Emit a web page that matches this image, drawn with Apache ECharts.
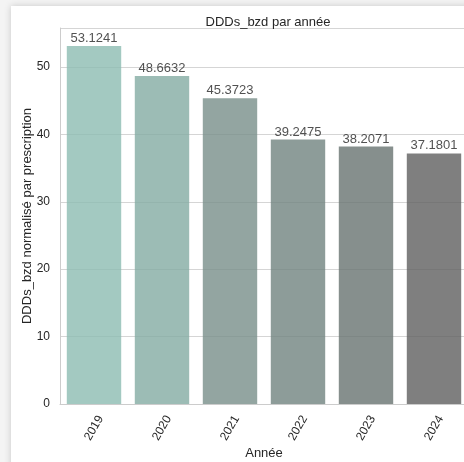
<!DOCTYPE html>
<html>
<head>
<meta charset="utf-8">
<script src="https://cdn.jsdelivr.net/npm/echarts@6/dist/echarts.min.js"></script>
<style>
    html, body { margin: 0; padding: 0; background: #f4f4f4; overflow: hidden; }
    #card { position: absolute; left: 11px; top: 6px; width: 520px; height: 520px; background: #fff;
        box-shadow: 0 0 7px rgba(0, 0, 0, 0.18); }
    #chart { position: absolute; left: 0; top: 0; width: 464px; height: 462px; }
</style>
</head>
<body>
<div id="card"></div>
<div id="chart"></div>
<script>
    const years = ['2019', '2020', '2021', '2022', '2023', '2024'];
    const values = [53.1241, 48.6632, 45.3723, 39.2475, 38.2071, 37.1801];
    const barColors = ['#8cbcb2', '#83aba3', '#788f8a', '#70837f', '#687370', '#5f5f5f'];
    const yTicks = [0, 10, 20, 30, 40, 50];

    const chart = echarts.init(document.getElementById('chart'));
    chart.setOption({
        animation: false,
        textStyle: { fontFamily: 'Liberation Sans, Arial, sans-serif' },
        title: {
            text: 'DDDs_bzd par année',
            left: 263,
            top: 11,
            textAlign: 'center',
            textStyle: { fontSize: 13, fontWeight: 'normal', color: '#262626' }
        },
        grid: { left: 60, top: 28, width: 408, height: 376, containLabel: false, outerBoundsMode: 'none' },
        xAxis: {
            type: 'category',
            data: years,
            name: 'Année',
            nameLocation: 'middle',
            nameGap: 43,
            nameMoveOverlap: false,
            nameTextStyle: { fontSize: 13, color: '#262626' },
            axisLine: { lineStyle: { color: '#cccccc' } },
            axisTick: { show: false },
            axisLabel: {
                rotate: 60, fontSize: 12, color: '#262626', margin: 24,
                align: 'center', verticalAlign: 'middle'
            }
        },
        yAxis: {
            type: 'value',
            min: 0,
            max: 53.1241 * 1.05,
            interval: 10,
            name: 'DDDs_bzd normalisé par prescription',
            nameLocation: 'middle',
            nameGap: 26,
            nameMoveOverlap: false,
            nameTextStyle: { fontSize: 13, color: '#262626' },
            axisLine: { show: true, lineStyle: { color: '#cccccc' } },
            axisTick: { show: false },
            axisLabel: {
                fontSize: 12, color: '#262626', margin: 10,
                formatter: v => (yTicks.includes(v) ? String(v) : '')
            },
            splitLine: { lineStyle: { color: '#d5d5d5' } }
        },
        series: [{
            type: 'bar',
            barCategoryGap: '20%',
            data: values.map((v, i) => ({
                value: v,
                itemStyle: { color: barColors[i], opacity: 0.8 }
            })),
            label: {
                show: true,
                position: 'top',
                distance: 1,
                fontSize: 13,
                color: '#262626',
                formatter: p => p.value.toFixed(4)
            }
        }]
    });
</script>
</body>
</html>
